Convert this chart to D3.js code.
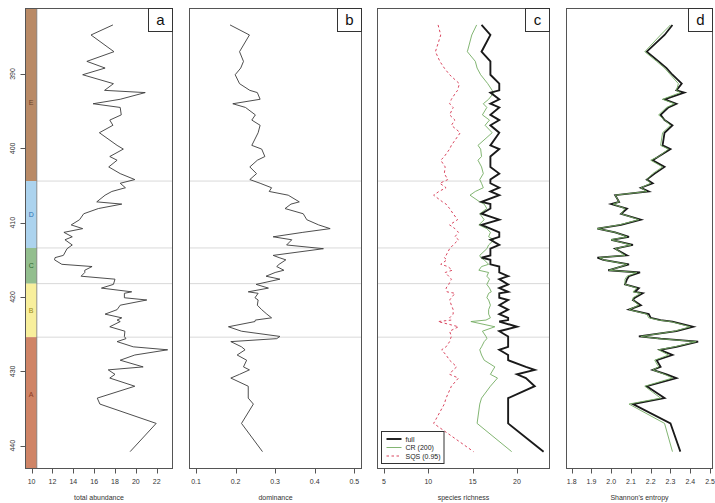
<!DOCTYPE html>
<html><head><meta charset="utf-8">
<script src="https://cdn.jsdelivr.net/npm/d3@7"></script>
<style>body{margin:0;background:#fff;} text{font-family:"Liberation Sans",Arial,Helvetica,sans-serif;}</style>
</head><body><svg id="chart" width="715" height="503"></svg>
<script>
// ---------- data ----------
const depth = [383.4, 384.75, 387.0, 388.3, 389.2, 390.1, 391.3, 392.2, 392.5, 393.4,
 394.0, 394.5, 395.5, 396.2, 396.9, 397.9, 399.6, 400.1, 401.1, 401.6,
 402.5, 403.4, 404.2, 404.7, 405.3, 405.8, 406.3, 407.2, 407.5, 408.1,
 408.8, 409.6, 410.3, 410.8, 411.3, 411.9, 412.3, 413.0, 413.5, 414.4,
 414.7, 415.0, 415.6, 415.9, 416.4, 416.7, 417.2, 417.6, 418.3, 418.8,
 419.3, 419.5, 420.1, 420.4, 421.1, 421.7, 422.3, 422.8, 423.1, 423.3,
 424.0, 424.6, 425.3, 425.6, 426.0, 426.7, 427.1, 427.8, 428.5, 429.4,
 429.8, 430.4, 430.9, 432.0, 433.6, 434.4, 437.0, 440.8];

const abundance = [17.8, 15.7, 17.9, 15.3, 17.05, 14.9, 17.85, 17.0, 20.9, 18.5,
 15.9, 18.5, 18.6, 17.5, 17.8, 16.5, 18.2, 18.8, 17.5, 18.2,
 17.4, 18.5, 19.9, 18.5, 19.0, 17.7, 17.05, 16.25, 18.65, 16.4,
 15.0, 14.6, 13.8, 14.9, 13.1, 13.9, 13.2, 13.9, 13.4, 13.05,
 12.25, 12.2, 12.9, 15.8, 15.1, 15.1, 14.75, 18.0, 17.85, 16.7,
 19.6, 18.9, 18.9, 21.05, 18.5, 18.2, 17.05, 18.65, 18.2, 18.5,
 17.5, 18.95, 18.9, 19.05, 18.2, 19.75, 23.05, 19.9, 18.5, 20.7,
 17.35, 18.0, 17.5, 19.9, 16.3, 16.55, 21.95, 19.45];

const dominance = [0.186, 0.235, 0.21, 0.22, 0.213, 0.199, 0.21, 0.236, 0.255, 0.262,
 0.193, 0.225, 0.25, 0.241, 0.262, 0.257, 0.241, 0.266, 0.274, 0.255,
 0.236, 0.253, 0.236, 0.262, 0.291, 0.285, 0.333, 0.361, 0.34, 0.325,
 0.371, 0.38, 0.41, 0.439, 0.37, 0.295, 0.342, 0.329, 0.422, 0.295,
 0.31, 0.327, 0.31, 0.304, 0.322, 0.3, 0.277, 0.312, 0.252, 0.283,
 0.232, 0.257, 0.249, 0.257, 0.255, 0.266, 0.279, 0.291, 0.25, 0.249,
 0.182, 0.215, 0.312, 0.304, 0.188, 0.215, 0.224, 0.204, 0.228, 0.22,
 0.235, 0.21, 0.188, 0.232, 0.232, 0.245, 0.215, 0.268];

const richFull = [16, 17, 16, 17, 17, 17, 18, 18, 17, 18,
 17, 18, 17, 18, 17, 18, 17, 18, 17, 17,
 17, 18, 17, 17, 18, 17, 18, 16, 17, 17,
 16, 18, 16, 17, 18, 18, 17, 18, 17, 17,
 16, 17, 17, 18, 18, 18, 19, 18, 19, 18,
 19, 18, 18, 19, 18, 19, 18, 19, 19, 18,
 20, 18, 19, 19, 19, 19, 18, 19, 19, 21,
 22, 20, 21, 22, 19, 19, 19, 23];

const richCR = [15.45, 14.9, 14.4, 15.3, 15.5, 15.9, 16.7, 17.2, 17.4, 16.8,
 16.2, 16.6, 16.1, 16.9, 16.4, 17.2, 15.6, 15.9, 16.0, 15.6,
 16.0, 16.2, 15.8, 16.0, 16.2, 15.3, 14.7, 15.8, 16.3, 16.6,
 15.8, 16.3, 15.7, 16.6, 17.0, 16.8, 17.4, 16.8, 16.6, 15.8,
 15.9, 16.3, 16.8, 16.0, 15.7, 16.8, 16.6, 16.9, 16.6, 16.9,
 17.1, 16.8, 16.6, 16.8, 17.0, 16.8, 16.8, 17.0, 16.5, 14.8,
 17.5, 16.1, 16.5, 16.6, 16.3, 16.0, 15.8, 16.0, 16.3, 17.5,
 17.3, 17.0, 17.8, 17.0, 16.0, 15.8, 15.5, 19.4];

const richSQS = [11.1, 11.4, 10.8, 11.3, 11.8, 12.4, 13.5, 13.3, 13.1, 12.6,
 12.4, 12.8, 12.4, 13.0, 12.6, 13.6, 12.6, 12.4, 11.8, 11.4,
 11.9, 11.8, 12.2, 11.3, 12.0, 11.2, 10.6, 11.6, 12.0, 12.4,
 12.8, 13.3, 12.4, 13.0, 13.4, 13.0, 13.4, 12.8, 12.4, 12.0,
 11.8, 12.1, 11.4, 12.2, 12.7, 11.9, 12.3, 12.6, 12.3, 12.0,
 12.1, 13.0, 12.6, 12.4, 12.6, 12.8, 12.8, 12.4, 12.6, 11.1,
 13.4, 12.4, 12.6, 12.5, 12.4, 12.0, 11.5, 12.0, 12.4, 13.2,
 12.8, 12.4, 13.4, 12.6, 12.0, 11.8, 10.6, 15.1];

const shannonFull = [2.31, 2.27, 2.18, 2.24, 2.28, 2.31, 2.357, 2.33, 2.37, 2.27,
 2.33, 2.29, 2.25, 2.27, 2.31, 2.27, 2.26, 2.30, 2.24, 2.21,
 2.27, 2.22, 2.18, 2.21, 2.15, 2.19, 2.02, 2.04, 2.00, 2.08,
 2.05, 2.15, 2.05, 1.93, 2.02, 2.09, 2.00, 2.11, 2.02, 2.08,
 1.93, 1.96, 2.09, 2.05, 1.985, 2.146, 2.09, 2.08, 2.07, 2.14,
 2.12, 2.16, 2.12, 2.11, 2.15, 2.09, 2.19, 2.20, 2.25, 2.31,
 2.415, 2.33, 2.14, 2.25, 2.44, 2.33, 2.247, 2.31, 2.23, 2.25,
 2.21, 2.28, 2.33, 2.18, 2.27, 2.11, 2.30, 2.35];

const shannonCR = [2.30, 2.25, 2.17, 2.23, 2.27, 2.30, 2.34, 2.33, 2.35, 2.26,
 2.32, 2.28, 2.24, 2.27, 2.30, 2.26, 2.25, 2.29, 2.24, 2.20,
 2.26, 2.21, 2.18, 2.20, 2.15, 2.18, 2.02, 2.04, 2.01, 2.07,
 2.05, 2.14, 2.04, 1.93, 2.02, 2.08, 2.00, 2.10, 2.02, 2.07,
 1.94, 1.96, 2.08, 2.05, 1.99, 2.13, 2.08, 2.07, 2.07, 2.13,
 2.11, 2.15, 2.11, 2.11, 2.14, 2.09, 2.18, 2.19, 2.24, 2.30,
 2.40, 2.32, 2.15, 2.24, 2.43, 2.32, 2.24, 2.29, 2.22, 2.24,
 2.21, 2.27, 2.31, 2.17, 2.25, 2.09, 2.27, 2.31];

const zoneNames   = ["E", "D", "C", "B", "A"];
const zoneTops    = [383.4, 404.4, 413.4, 418.2, 425.4];
const zoneBottoms = [404.4, 413.4, 418.2, 425.4, 440.8];
const zoneBoundaries = [404.4, 413.4, 418.2, 425.4];
const zoneFill = ["#b98a66", "#acd3ee", "#93be8e", "#f8ef9c", "#cf8466"];
const zoneText = ["#6b4226", "#2f6fae", "#2e6b2e", "#9a8a1a", "#8b3a22"];

const depthTicks = [390, 400, 410, 420, 430, 440];
const ticksA = [10, 12, 14, 16, 18, 20, 22];
const ticksB = [0.1, 0.2, 0.3, 0.4, 0.5];
const ticksC = [5, 10, 15, 20];
const ticksD = [1.8, 1.9, 2.0, 2.1, 2.2, 2.3, 2.4, 2.5];

const legendLabels = ["full", "CR (200)", "SQS (0.95)"];

// ---------- layout ----------
const W = 715, H = 503;
const plotTop = 8.5, plotBottom = 468.5;
const svg = d3.select("#chart");
svg.append("rect").attr("width", W).attr("height", H).attr("fill", "#fff");

const y = d3.scaleLinear().domain([390, 440]).range([74, 445.7]);

const panels = [
  {id: "a", left: 25.5, right: 172.5, dom: [10, 22], rng: [31.6, 156.7], ticks: ticksA, fmt: d3.format("d"), title: "total abundance", grid: true},
  {id: "b", left: 189.5, right: 361.5, dom: [0.1, 0.5], rng: [196, 354.3], ticks: ticksB, fmt: d3.format(".1f"), title: "dominance", grid: true},
  {id: "c", left: 377.5, right: 549.5, dom: [5, 20], rng: [384, 517], ticks: ticksC, fmt: d3.format("d"), title: "species richness", grid: true},
  {id: "d", left: 566.5, right: 712.5, dom: [1.8, 2.5], rng: [571.7, 710], ticks: ticksD, fmt: d3.format(".1f"), title: "Shannon's entropy", grid: false}
];

const defs = svg.append("defs");
const axisCol = "#555";

panels.forEach(p => {
  p.x = d3.scaleLinear().domain(p.dom).range(p.rng);
  defs.append("clipPath").attr("id", "clip-" + p.id)
    .append("rect").attr("x", p.left).attr("y", plotTop).attr("width", p.right - p.left).attr("height", plotBottom - plotTop);
  p.g = svg.append("g");
  p.inner = p.g.append("g").attr("clip-path", `url(#clip-${p.id})`);
  if (p.grid) {
    p.inner.selectAll("line.zb").data(zoneBoundaries).enter().append("line")
      .attr("x1", p.left).attr("x2", p.right)
      .attr("y1", d => y(d)).attr("y2", d => y(d))
      .attr("stroke", "#d9d9d9").attr("stroke-width", 1);
  }
});

const line = (xs, vals) => d3.line().x((d, i) => xs(vals[i])).y((d) => y(d));

// panel a: zone strip
const pa = panels[0];
const stripRight = pa.x(10.5);
pa.inner.selectAll("rect.zone").data(zoneNames).enter().append("rect")
  .attr("x", pa.left)
  .attr("width", stripRight - pa.left)
  .attr("y", (d, i) => i === 0 ? plotTop - 2 : y(zoneTops[i]))
  .attr("height", (d, i) => (i === zoneNames.length - 1 ? plotBottom + 2 : y(zoneBottoms[i])) - (i === 0 ? plotTop - 2 : y(zoneTops[i])))
  .attr("fill", (d, i) => zoneFill[i]);
pa.inner.append("line").attr("x1", stripRight).attr("x2", stripRight).attr("y1", plotTop).attr("y2", plotBottom)
  .attr("stroke", "#777").attr("stroke-width", 0.8);
pa.inner.selectAll("text.zone").data(zoneNames).enter().append("text")
  .attr("x", (pa.left + stripRight) / 2)
  .attr("y", (d, i) => y((zoneTops[i] + zoneBottoms[i]) / 2) + 2.5)
  .attr("text-anchor", "middle").attr("font-size", 7)
  .attr("fill", (d, i) => zoneText[i]).text(d => d);

pa.inner.append("path").datum(depth).attr("d", line(pa.x, abundance))
  .attr("fill", "none").attr("stroke", "#3a3a3a").attr("stroke-width", 0.9);

const pb = panels[1];
pb.inner.append("path").datum(depth).attr("d", line(pb.x, dominance))
  .attr("fill", "none").attr("stroke", "#3a3a3a").attr("stroke-width", 0.9);

const pc = panels[2];
const greenC = "#74ad62", redC = "#d9465f";
pc.inner.append("path").datum(depth).attr("d", line(pc.x, richSQS))
  .attr("fill", "none").attr("stroke", redC).attr("stroke-width", 1).attr("stroke-dasharray", "2.5,2.5");
pc.inner.append("path").datum(depth).attr("d", line(pc.x, richCR))
  .attr("fill", "none").attr("stroke", greenC).attr("stroke-width", 0.9);
pc.inner.append("path").datum(depth).attr("d", line(pc.x, richFull))
  .attr("fill", "none").attr("stroke", "#1a1a1a").attr("stroke-width", 1.9);

const pd = panels[3];
pd.inner.append("path").datum(depth).attr("d", line(pd.x, shannonFull))
  .attr("fill", "none").attr("stroke", "#1a1a1a").attr("stroke-width", 1.8);
pd.inner.append("path").datum(depth).attr("d", line(pd.x, shannonCR))
  .attr("fill", "none").attr("stroke", greenC).attr("stroke-width", 0.9);

// boxes, axes, labels
panels.forEach(p => {
  p.g.append("rect").attr("x", p.left).attr("y", plotTop).attr("width", p.right - p.left).attr("height", plotBottom - plotTop)
    .attr("fill", "none").attr("stroke", axisCol).attr("stroke-width", 1);
  const ax = p.g.append("g");
  ax.selectAll("line").data(p.ticks).enter().append("line")
    .attr("x1", d => Math.round(p.x(d)) + 0.5).attr("x2", d => Math.round(p.x(d)) + 0.5)
    .attr("y1", plotBottom).attr("y2", plotBottom + 5)
    .attr("stroke", axisCol).attr("stroke-width", 1);
  ax.selectAll("text").data(p.ticks).enter().append("text")
    .attr("x", d => p.x(d)).attr("y", plotBottom + 15.5)
    .attr("text-anchor", "middle").attr("font-size", 7).attr("fill", "#333")
    .text(d => p.fmt(d));
  p.g.append("text").attr("x", (p.left + p.right) / 2).attr("y", 500)
    .attr("text-anchor", "middle").attr("font-size", 7).attr("fill", "#333").text(p.title);
  // letter box
  const bw = 24, bh = 23;
  p.g.append("rect").attr("x", p.right - bw).attr("y", plotTop).attr("width", bw).attr("height", bh)
    .attr("fill", "#fff").attr("stroke", "#333").attr("stroke-width", 1);
  p.g.append("text").attr("x", p.right - bw / 2).attr("y", plotTop + 16.5)
    .attr("text-anchor", "middle").attr("font-size", 15).attr("fill", "#111").text(p.id);
});

// depth axis on panel a
const yAx = svg.append("g");
yAx.selectAll("line").data(depthTicks).enter().append("line")
  .attr("x1", pa.left - 5).attr("x2", pa.left)
  .attr("y1", d => Math.round(y(d)) + 0.5).attr("y2", d => Math.round(y(d)) + 0.5)
  .attr("stroke", axisCol).attr("stroke-width", 1);
yAx.selectAll("text").data(depthTicks).enter().append("text")
  .attr("transform", d => `translate(14.5,${y(d)}) rotate(-90)`)
  .attr("text-anchor", "middle").attr("font-size", 7).attr("fill", "#333")
  .text(d => d);

// legend in panel c
const lg = svg.append("g");
const lgX = pc.x(4.7), lgY = y(439.2);
const lgBox = {x: 381.5, y: 431.5, w: 62.5, h: 32};
lg.append("rect").attr("x", lgBox.x).attr("y", lgBox.y).attr("width", lgBox.w).attr("height", lgBox.h)
  .attr("fill", "#fff").attr("stroke", "#333").attr("stroke-width", 1);
const lgStyles = [
  {stroke: "#1a1a1a", w: 1.9, dash: null},
  {stroke: greenC, w: 0.9, dash: null},
  {stroke: redC, w: 1, dash: "2.5,2.5"}
];
legendLabels.forEach((lab, i) => {
  const yy = lgBox.y + 7.5 + i * 8.5;
  lg.append("line").attr("x1", lgBox.x + 5).attr("x2", lgBox.x + 20).attr("y1", yy).attr("y2", yy)
    .attr("stroke", lgStyles[i].stroke).attr("stroke-width", lgStyles[i].w)
    .attr("stroke-dasharray", lgStyles[i].dash);
  lg.append("text").attr("x", lgBox.x + 24).attr("y", yy + 2.5).attr("font-size", 7).attr("fill", "#222").text(lab);
});
</script></body></html>
